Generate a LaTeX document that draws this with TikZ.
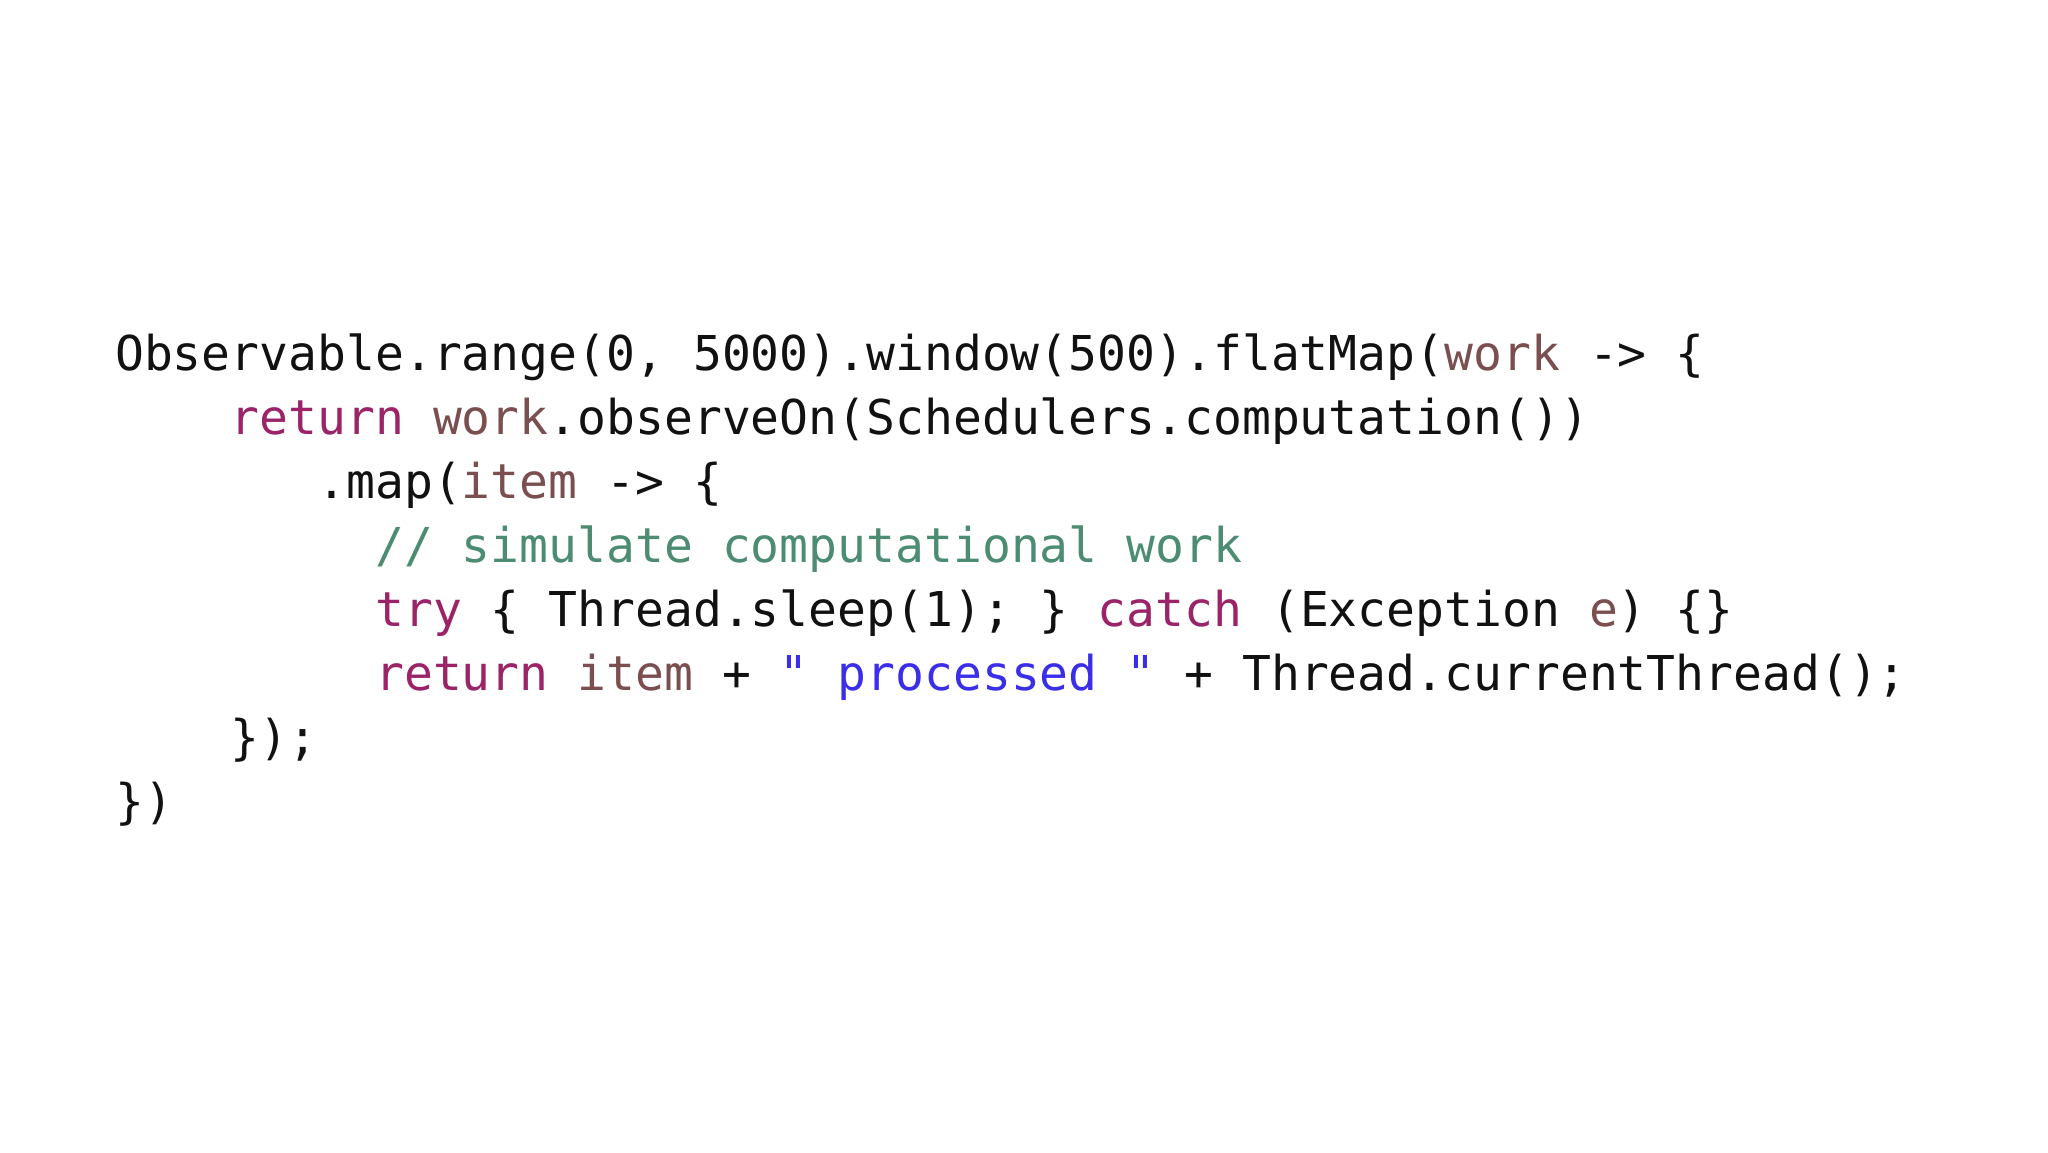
\documentclass[tikz,border=0pt]{standalone}
\usepackage{fontspec}
\setmonofont{DejaVu Sans Mono}
\definecolor{kw}{HTML}{9B2368}
\definecolor{var}{HTML}{7B4F50}
\definecolor{cm}{HTML}{4B8C72}
\definecolor{str}{HTML}{3A2EE8}
\definecolor{txt}{HTML}{111111}
\newcommand{\K}[1]{\textcolor{kw}{#1}}
\newcommand{\V}[1]{\textcolor{var}{#1}}
\newcommand{\C}[1]{\textcolor{cm}{#1}}
\newcommand{\Q}[1]{\textcolor{str}{#1}}
\begin{document}
\begin{tikzpicture}[x=1pt,y=1pt,
  code/.style={anchor=base west,inner sep=0pt,text=txt,font=\ttfamily\fontsize{48}{64}\selectfont}]
\useasboundingbox[fill=white] (0,0) rectangle (2048,-1152);
\def\cw{28.9}
\node[code] (l1) at (115,-370) {Observable.range(0, 5000).window(500).flatMap(\V{work} -> \{};
\node[code] (l2) at (115+4*\cw,-434) {\K{return} \V{work}.observeOn(Schedulers.computation())};
\node[code] (l3) at (115+7*\cw,-498) {.map(\V{item} -> \{};
\node[code] (l4) at (115+9*\cw,-562) {\C{// simulate computational work}};
\node[code] (l5) at (115+9*\cw,-626) {\K{try} \{ Thread.sleep(1); \} \K{catch} (Exception \V{e}) \{\}};
\node[code] (l6) at (115+9*\cw,-690) {\K{return} \V{item} + \Q{" processed "} + Thread.currentThread();};
\node[code] (l7) at (115+4*\cw,-754) {\});};
\node[code] (l8) at (115,-818) {\})};
\end{tikzpicture}
\end{document}
